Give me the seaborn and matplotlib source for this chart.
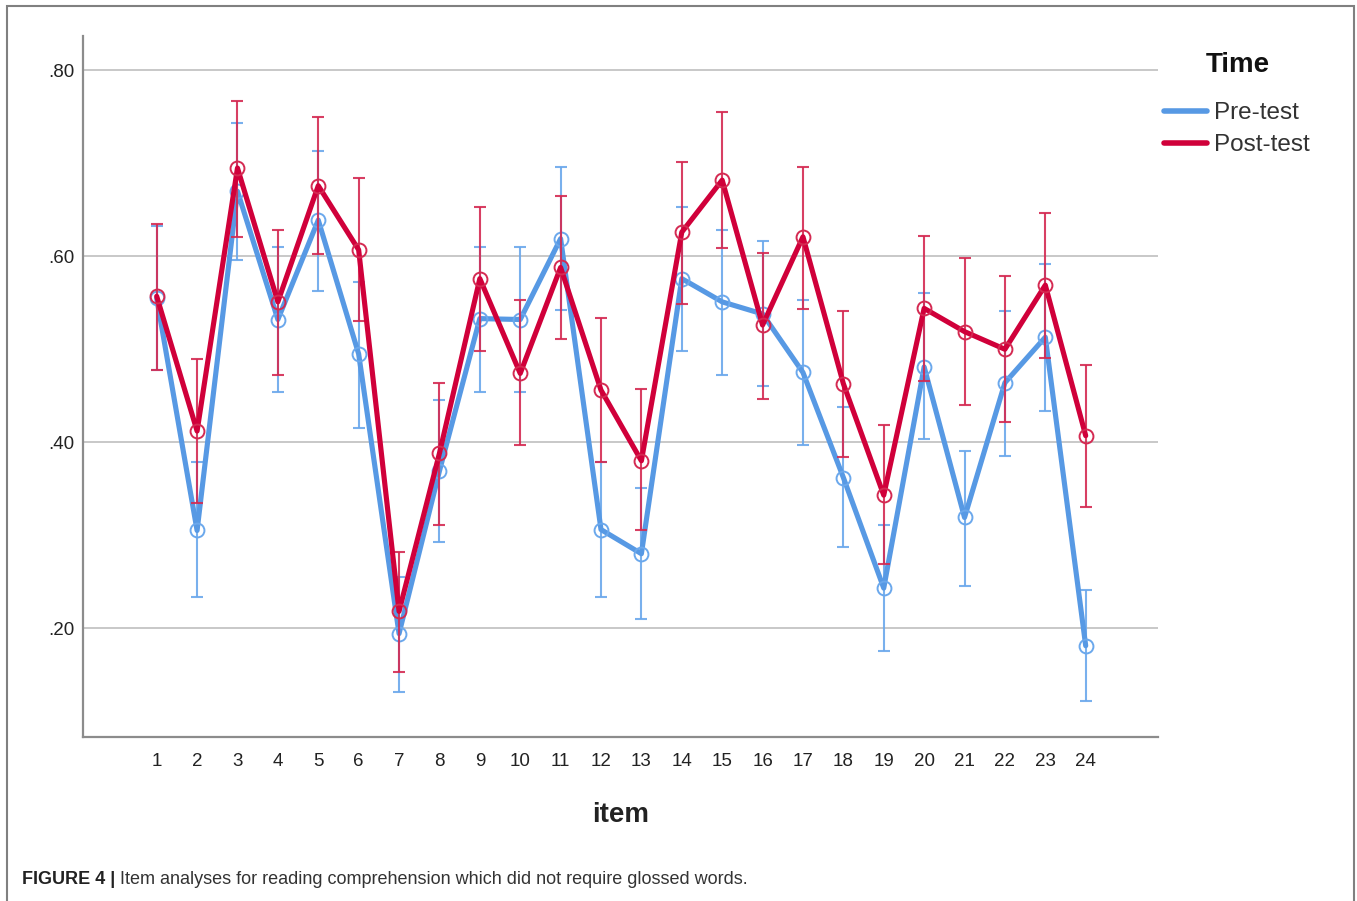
import matplotlib
matplotlib.use("Agg")
import matplotlib.pyplot as plt
import seaborn as sns
import numpy as np
import pandas as pd
from matplotlib.lines import Line2D
from matplotlib.patches import Rectangle
from matplotlib.ticker import FuncFormatter

# ---------------- data ----------------
items = list(range(1, 25))
pre_mean = [0.555, 0.305, 0.670, 0.532, 0.639, 0.495, 0.194, 0.369, 0.533, 0.532, 0.619, 0.306,
            0.280, 0.576, 0.551, 0.538, 0.475, 0.362, 0.243, 0.481, 0.319, 0.464, 0.513, 0.181]
pre_lo = [0.478, 0.233, 0.596, 0.454, 0.563, 0.415, 0.131, 0.293, 0.454, 0.454, 0.542, 0.233,
          0.210, 0.498, 0.472, 0.460, 0.397, 0.287, 0.175, 0.403, 0.245, 0.385, 0.434, 0.121]
pre_hi = [0.633, 0.379, 0.743, 0.610, 0.713, 0.572, 0.255, 0.445, 0.610, 0.610, 0.696, 0.379,
          0.351, 0.653, 0.628, 0.616, 0.553, 0.438, 0.311, 0.560, 0.391, 0.541, 0.592, 0.241]
post_mean = [0.557, 0.412, 0.695, 0.551, 0.676, 0.607, 0.218, 0.388, 0.576, 0.474, 0.588, 0.456,
             0.380, 0.626, 0.682, 0.526, 0.621, 0.463, 0.343, 0.544, 0.519, 0.500, 0.569, 0.407]
post_lo = [0.478, 0.335, 0.621, 0.472, 0.602, 0.530, 0.153, 0.311, 0.498, 0.397, 0.511, 0.379,
           0.305, 0.549, 0.609, 0.447, 0.543, 0.384, 0.269, 0.466, 0.440, 0.422, 0.491, 0.330]
post_hi = [0.635, 0.489, 0.767, 0.628, 0.750, 0.684, 0.282, 0.464, 0.653, 0.553, 0.665, 0.534,
           0.457, 0.702, 0.755, 0.604, 0.696, 0.541, 0.418, 0.622, 0.598, 0.579, 0.647, 0.483]
series_names = ["Pre-test", "Post-test"]
legend_title = "Time"
yticks = [0.20, 0.40, 0.60, 0.80]
caption_bold = "FIGURE 4 |"
caption_text = " Item analyses for reading comprehension which did not require glossed words."

# ---------------- style ----------------
sns.set_theme(style="white")
plt.rcParams["font.family"] = ["Liberation Sans", "DejaVu Sans"]

W, H = 1357, 901
fig = plt.figure(figsize=(W / 100, H / 100), dpi=100)
ax = fig.add_axes([82.7 / W, 1 - 737 / H, (1158 - 82.7) / W, (737 - 35.5) / H])

blue, blue_err = "#5799e4", "#6ba8ec"
red, red_err = "#d0003a", "#d42a52"

df = pd.DataFrame({"item": items, "pre": pre_mean, "post": post_mean})

# pre-test
ax.errorbar(items, pre_mean,
            yerr=[np.array(pre_mean) - np.array(pre_lo), np.array(pre_hi) - np.array(pre_mean)],
            fmt="none", ecolor=blue_err, elinewidth=1.5, capsize=4.5, capthick=1.5, alpha=0.9, zorder=2)
sns.lineplot(data=df, x="item", y="pre", ax=ax, color=blue, lw=3.7, marker="o", ms=10,
             mfc="none", mec=blue_err, mew=1.4, zorder=3)
# post-test
ax.errorbar(items, post_mean,
            yerr=[np.array(post_mean) - np.array(post_lo), np.array(post_hi) - np.array(post_mean)],
            fmt="none", ecolor=red_err, elinewidth=1.5, capsize=4.5, capthick=1.5, alpha=0.9, zorder=4)
sns.lineplot(data=df, x="item", y="post", ax=ax, color=red, lw=3.7, marker="o", ms=10,
             mfc="none", mec=red_err, mew=1.4, zorder=5)

# axes
ax.set_xlim(-0.832, 25.79)
ax.set_ylim(0.0828, 0.8376)
ax.set_xticks(items)
ax.set_xticklabels([str(i) for i in items])
ax.set_yticks(yticks)
ax.yaxis.set_major_formatter(FuncFormatter(lambda v, p: f"{v:.2f}".lstrip("0")))
ax.tick_params(axis="both", length=0, labelsize=13.5, colors="#222222")
ax.tick_params(axis="x", pad=11.5)
ax.tick_params(axis="y", pad=6)
ax.grid(axis="y", color="#c8c8c8", lw=1.4)
ax.set_axisbelow(True)
for s in ["top", "right"]:
    ax.spines[s].set_visible(False)
for s in ["left", "bottom"]:
    ax.spines[s].set_color("#8c8c8c")
    ax.spines[s].set_linewidth(1.6)
ax.set_ylabel("")
ax.set_xlabel("item", fontsize=20, fontweight="bold", color="#222222")
ax.xaxis.set_label_coords(0.5, (737 - 815) / (737 - 35.5))
ax.xaxis.label.set_va("center")

# legend
handles = [Line2D([0], [0], color=blue, lw=4), Line2D([0], [0], color=red, lw=4)]
leg = ax.legend(handles, series_names, loc="upper left",
                bbox_to_anchor=(1164 / W, 1 - 102 / H), bbox_transform=fig.transFigure,
                frameon=False, borderpad=0, borderaxespad=0, handlelength=1.75,
                handletextpad=0.3, labelspacing=0.42, fontsize=17.5)
for t in leg.get_texts():
    t.set_color("#333333")
fig.text(1238 / W, 1 - 65 / H, legend_title, fontsize=20, fontweight="bold",
         ha="center", va="center", color="#111111")

# caption
t1 = fig.text(22 / W, 1 - 880 / H, caption_bold, fontsize=13.0, fontweight="bold",
              va="center", color="#222222")
fig.canvas.draw()
bb = t1.get_window_extent()
fig.text(bb.x1 / W, 1 - 880 / H, caption_text, fontsize=13.0,
         va="center", color="#333333")

# outer frame
fig.patches.append(Rectangle((7 / W, -0.05), (1354 - 7) / W, 1 - 6 / H + 0.05,
                             transform=fig.transFigure, fill=False, ec="#808080", lw=1.5))

fig.savefig("out.png", dpi=100)
